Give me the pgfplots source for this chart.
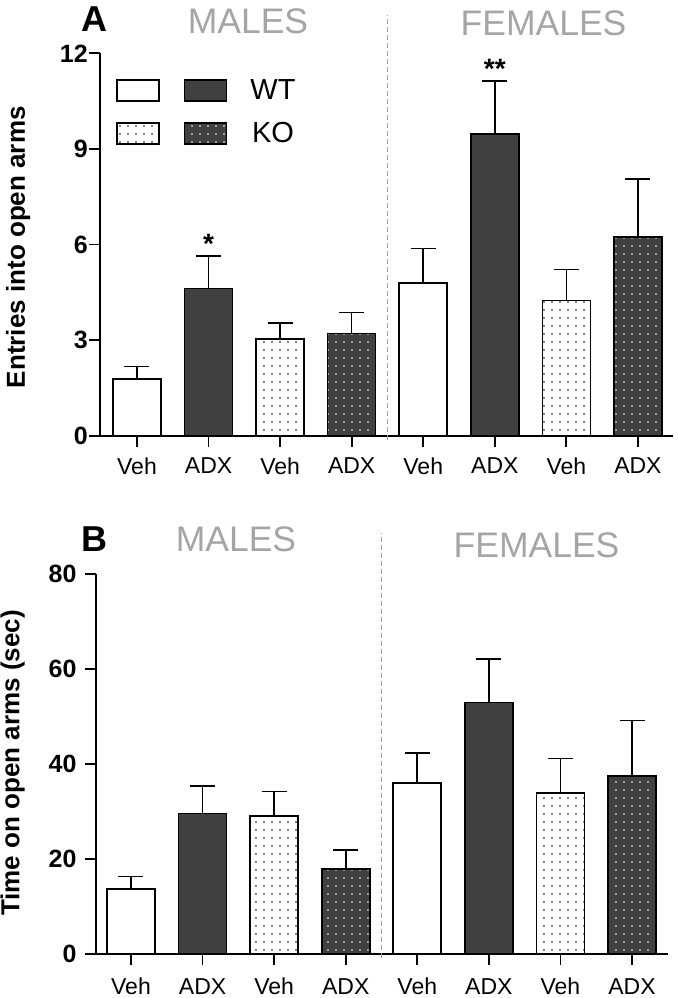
\documentclass[border=0pt]{standalone}
\usepackage{fontspec}
\setmainfont{Liberation Sans}
\usepackage{pgfplots}
\pgfplotsset{compat=1.18}
\usetikzlibrary{patterns.meta}
\definecolor{barDark}{RGB}{64,64,64}
\definecolor{titleGray}{RGB}{165,165,165}
\definecolor{sepGray}{RGB}{160,160,160}

\tikzset{dotpat/.style={pattern={Dots[distance=8pt,radius=0.95pt]}}}

\pgfplotsset{
  panel/.style={
    scale only axis,
    axis x line*=bottom, axis y line*=left,
    axis line style={line width=1.8pt, black},
    tick align=outside,
    major tick length=11pt,
    tick style={line width=1.8pt, black},
    xtick={0,...,7},
    xticklabels={Veh,ADX,Veh,ADX,Veh,ADX,Veh,ADX},
    ymin=0,
    clip=false,
    /pgf/number format/assume math mode=true,
    xticklabel style={font=\fontsize{23}{23}\selectfont, inner sep=0pt, anchor=north},
    yticklabel style={font=\bfseries\fontsize{25}{25}\selectfont, inner sep=0pt, anchor=east},
    ylabel style={font=\bfseries\fontsize{26}{26}\selectfont, anchor=center},
    error bars/error bar style={line width=1.6pt, black, solid},
    error bars/error mark options={rotate=90, line width=1.6pt, black, mark size=12.5pt},
  },
  mybar/.style={ybar, bar shift=0pt, bar width=48pt, draw=black, line width=1.6pt, forget plot},
  witherr/.style={error bars/y dir=plus, error bars/y explicit},
}

\begin{document}
\begin{tikzpicture}
\useasboundingbox (0,0) rectangle (677pt,998pt);

% ---------------- Panel A ----------------
\begin{axis}[panel,
  at={(100pt,562.3pt)}, anchor=south west,
  width=573pt, height=382.4pt,
  xmin=-0.517, xmax=7.49,
  ymax=12, ytick={0,3,6,9,12},
  xticklabel style={yshift=-11pt},
  yticklabel style={xshift=-1pt},
  ylabel={Entries into open arms},
  ylabel style={at={(axis description cs:-0.143,0.493)}},
  legend columns=2,
  legend style={at={(axis description cs:0.0283,0.9323)}, anchor=north west,
    draw=none, fill=none, inner sep=0pt, outer sep=0pt,
    font=\fontsize{29}{29}\selectfont, row sep=20.4pt,
    nodes={inner sep=0pt},
    /tikz/column 1/.style={column sep=11.5pt},
    /tikz/column 2/.style={column sep=11.5pt},
    /tikz/column 3/.style={column sep=23pt}},
]
\addplot[mybar, fill=white, witherr] coordinates {(0,1.78) +- (0,0.39) (4,4.80) +- (0,1.08)};
\addplot[mybar, fill=barDark, witherr] coordinates {(1,4.62) +- (0,1.02) (5,9.46) +- (0,1.67)};
\addplot[mybar, fill=white, witherr] coordinates {(2,3.03) +- (0,0.50) (6,4.24) +- (0,0.98)};
\addplot[mybar, dotpat, pattern color=black] coordinates {(2,3.03) (6,4.24)};
\addplot[mybar, fill=barDark, witherr] coordinates {(3,3.21) +- (0,0.65) (7,6.23) +- (0,1.82)};
\addplot[mybar, dotpat, pattern color=white] coordinates {(3,3.21) (7,6.23)};

\addlegendimage{legend image code/.code={\draw[black, line width=1.6pt, fill=white] (0pt,-10.5pt) rectangle (42pt,10.5pt);}}
\addlegendentry{\mbox{}}
\addlegendimage{legend image code/.code={\draw[black, line width=1.6pt, fill=barDark] (0pt,-10.5pt) rectangle (42pt,10.5pt);}}
\addlegendentry{WT}
\addlegendimage{legend image code/.code={\fill[white] (0pt,-10.5pt) rectangle (42pt,10.5pt);
  \fill[dotpat, pattern color=black] (0pt,-10.5pt) rectangle (42pt,10.5pt);
  \draw[black, line width=1.6pt] (0pt,-10.5pt) rectangle (42pt,10.5pt);}}
\addlegendentry{\mbox{}}
\addlegendimage{legend image code/.code={\fill[barDark] (0pt,-10.5pt) rectangle (42pt,10.5pt);
  \fill[dotpat, pattern color=white] (0pt,-10.5pt) rectangle (42pt,10.5pt);
  \draw[black, line width=1.6pt] (0pt,-10.5pt) rectangle (42pt,10.5pt);}}
\addlegendentry{KO}

\draw[sepGray, line width=1.7pt, dash pattern=on 5pt off 3pt] (axis cs:3.5,-0.15) -- (axis cs:3.5,13.2);
\node[font=\bfseries\fontsize{28}{28}\selectfont, anchor=base, inner sep=0pt] at (axis cs:1,5.73) {*};
\node[font=\bfseries\fontsize{28}{28}\selectfont, anchor=base, inner sep=0pt] at (axis cs:5,11.22) {**};
\end{axis}

% ---------------- Panel B ----------------
\begin{axis}[panel,
  at={(95.7pt,44pt)}, anchor=south west,
  width=572.3pt, height=379.7pt,
  xmin=-0.493, xmax=7.503,
  ymax=80, ytick={0,20,40,60,80},
  xticklabel style={yshift=-13pt},
  yticklabel style={xshift=-8pt},
  ylabel={Time on open arms (sec)},
  ylabel style={at={(axis description cs:-0.145,0.503)}},
]
\addplot[mybar, fill=white, witherr] coordinates {(0,13.7) +- (0,2.6) (4,36.0) +- (0,6.3)};
\addplot[mybar, fill=barDark, witherr] coordinates {(1,29.6) +- (0,5.8) (5,53.0) +- (0,9.1)};
\addplot[mybar, fill=white, witherr] coordinates {(2,29.1) +- (0,5.1) (6,33.9) +- (0,7.3)};
\addplot[mybar, dotpat, pattern color=black] coordinates {(2,29.1) (6,33.9)};
\addplot[mybar, fill=barDark, witherr] coordinates {(3,17.9) +- (0,4.0) (7,37.5) +- (0,11.7)};
\addplot[mybar, dotpat, pattern color=white] coordinates {(3,17.9) (7,37.5)};

\draw[sepGray, line width=1.7pt, dash pattern=on 5pt off 3pt] (axis cs:3.5,-0.8) -- (axis cs:3.5,88.7);
\end{axis}

% ---------------- Titles ----------------
\node[anchor=base west, font=\bfseries\fontsize{36}{36}\selectfont, inner sep=0pt] at (81pt,966pt) {A};
\node[anchor=base, font=\fontsize{35.5}{35.5}\selectfont, text=titleGray, inner sep=0pt] at (248pt,964pt) {MALES};
\node[anchor=base, font=\fontsize{35.5}{35.5}\selectfont, text=titleGray, inner sep=0pt] at (543.5pt,962pt) {FEMALES};
\node[anchor=base west, font=\bfseries\fontsize{36}{36}\selectfont, inner sep=0pt] at (81pt,446pt) {B};
\node[anchor=base, font=\fontsize{35.5}{35.5}\selectfont, text=titleGray, inner sep=0pt] at (236pt,446pt) {MALES};
\node[anchor=base, font=\fontsize{35.5}{35.5}\selectfont, text=titleGray, inner sep=0pt] at (536.5pt,440pt) {FEMALES};
\end{tikzpicture}
\end{document}
